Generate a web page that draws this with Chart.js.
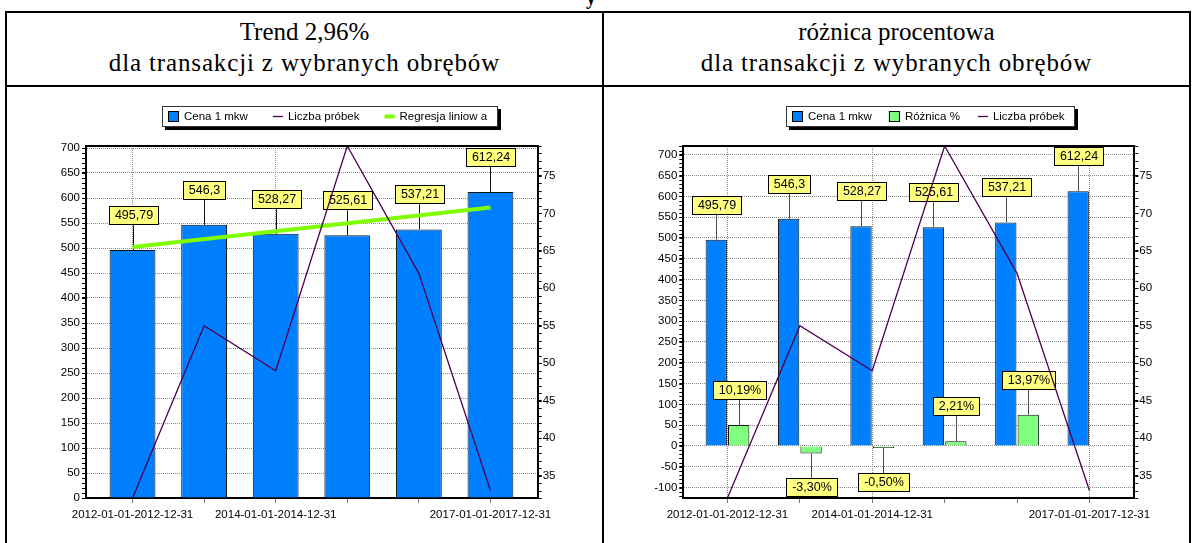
<!DOCTYPE html>
<html>
<head>
<meta charset="utf-8">
<script src="https://cdn.jsdelivr.net/npm/chart.js@4.4.1/dist/chart.umd.min.js"></script>
<style>
  body { margin: 0; background: #fff; }
  #page { position: relative; width: 1197px; height: 543px; overflow: hidden; background: #fff; }
  .rule { position: absolute; background: #000; }
  .head {
    position: absolute; top: 13px; height: 72px; text-align: center; color: #000;
    font-family: "Liberation Serif", "Times New Roman", serif; font-size: 25px; line-height: 31px;
    padding-top: 3px; box-sizing: border-box;
  }
  .head span { letter-spacing: 0.85px; }
  .cut { position: absolute; left: 586px; top: -14px; font: bold 20px "Liberation Serif", serif; }
  .cell { position: absolute; top: 87px; height: 456px; }
</style>
</head>
<body>
<div id="page">
  <div class="cut">y</div>
  <div class="rule" style="left:5px;top:11px;width:1186px;height:2px"></div>
  <div class="rule" style="left:5px;top:85px;width:1186px;height:2px"></div>
  <div class="rule" style="left:5px;top:11px;width:2px;height:532px"></div>
  <div class="rule" style="left:602px;top:11px;width:2px;height:532px"></div>
  <div class="rule" style="left:1189px;top:11px;width:2px;height:532px"></div>
  <div class="head" style="left:7px;width:595px">Trend 2,96%<br><span>dla transakcji z wybranych obrębów</span></div>
  <div class="head" style="left:604px;width:585px">różnica procentowa<br><span>dla transakcji z wybranych obrębów</span></div>
  <div class="cell" style="left:7px;width:595px"><canvas id="trendChart"></canvas></div>
  <div class="cell" style="left:604px;width:585px"><canvas id="diffChart"></canvas></div>
</div>
<script>
// data
const categories = [
  "2012-01-01-2012-12-31", "2013-01-01-2013-12-31", "2014-01-01-2014-12-31",
  "2015-01-01-2015-12-31", "2016-01-01-2016-12-31", "2017-01-01-2017-12-31",
];
const shownTicks = [0, 2, 5];
const pricePerSqm = [495.79, 546.3, 528.27, 525.61, 537.21, 612.24];
const sampleCount = [32, 55, 49, 79, 62, 33];
const regressionX = [0, 5];
const regressionY = [502, 581];
const priceDiff = [50.51, -18.03, -2.66, 11.6, 75.03, null];
const priceDiffPct = [10.19, -3.3, -0.5, 2.21, 13.97, null];

const FONT = "'Liberation Sans', Arial, sans-serif";
const BLUE = "#0080ff";
const PURPLE = "#500050";
const LIME = "#80ff00";
const MINT = "#80ff80";
const NOTE = "#ffff80";

const points = (ys, xs) => ys.map((y, i) => ({ x: xs ? xs[i] : i, y }));
const comma = (v) => String(v).replace(".", ",");
const pct = (v) => (v == null ? null : v.toFixed(2).replace(".", ",") + "%");

// BEGIN: PLUGINS
// yellow value boxes on stems, drawn after bars but under the lines
const valueNotes = {
  id: "valueNotes",
  beforeDatasetsDraw(chart) {
    chart.$notesDone = false;
  },
  beforeDatasetDraw(chart, args, opts) {
    if (chart.$notesDone || args.meta.type !== "line") return;
    chart.$notesDone = true;
    const ctx = chart.ctx;
    ctx.save();
    ctx.font = `12.5px ${FONT}`;
    ctx.textAlign = "center";
    ctx.textBaseline = "middle";
    chart.data.datasets.forEach((ds, di) => {
      if (!ds.notes) return;
      chart.getDatasetMeta(di).data.forEach((el, i) => {
        const text = ds.notes[i];
        if (text == null) return;
        const down = ds.data[i].y < 0;
        const x = Math.round(el.x) + 0.5;
        const y1 = down ? el.y + opts.stem : el.y - opts.stem;
        ctx.strokeStyle = opts.stemColor;
        ctx.lineWidth = 1;
        ctx.beginPath();
        ctx.moveTo(x, el.y);
        ctx.lineTo(x, y1);
        ctx.stroke();
        const w = Math.round(ctx.measureText(text).width + 12);
        const h = 19;
        const left = Math.round(x - w / 2);
        const top = Math.round(down ? y1 : y1 - h);
        ctx.fillStyle = NOTE;
        ctx.fillRect(left, top, w, h);
        ctx.strokeStyle = "#000";
        ctx.strokeRect(left + 0.5, top + 0.5, w - 1, h - 1);
        ctx.fillStyle = "#000";
        ctx.fillText(text, left + w / 2, top + h / 2 + 0.5);
      });
    });
    ctx.restore();
  },
};

// legend in a box with a hard shadow
const framedLegend = {
  id: "framedLegend",
  afterDraw(chart, args, opts) {
    const ctx = chart.ctx;
    ctx.save();
    ctx.font = `11.5px ${FONT}`;
    ctx.textBaseline = "middle";
    const items = chart.data.datasets.map((ds) => ({
      ds,
      w: 16 + ctx.measureText(ds.label).width,
    }));
    const width = Math.round(
      6 + items.reduce((s, it) => s + it.w, 0) + opts.gap * (items.length - 1) + 11
    );
    const x0 = opts.left;
    const y0 = opts.top;
    const h = 21;
    ctx.fillStyle = "#000";
    ctx.fillRect(x0 + 3, y0 + 3, width, h);
    ctx.fillStyle = "#fff";
    ctx.fillRect(x0, y0, width, h);
    ctx.strokeStyle = "#333";
    ctx.lineWidth = 1;
    ctx.strokeRect(x0 + 0.5, y0 + 0.5, width - 1, h - 1);
    let x = x0 + 6;
    const cy = y0 + h / 2;
    items.forEach(({ ds, w }) => {
      if (ds.type === "line") {
        ctx.strokeStyle = ds.borderColor;
        ctx.lineWidth = ds.borderWidth > 2 ? 4 : 1.3;
        ctx.beginPath();
        ctx.moveTo(x + 1, cy);
        ctx.lineTo(x + 11, cy);
        ctx.stroke();
      } else {
        ctx.fillStyle = ds.backgroundColor;
        ctx.fillRect(x, cy - 5.5, 11, 11);
        ctx.strokeStyle = "#000";
        ctx.lineWidth = 1;
        ctx.strokeRect(x + 0.5, cy - 5, 10, 10);
      }
      ctx.fillStyle = "#000";
      ctx.fillText(ds.label, x + 16, cy);
      x += w + opts.gap;
    });
    ctx.restore();
  },
};

// top frame line and small minor ticks on the value axes
const plotFrame = {
  id: "plotFrame",
  afterDraw(chart, args, opts) {
    const { ctx, chartArea } = chart;
    ctx.save();
    ctx.strokeStyle = "#000";
    ctx.lineWidth = 2;
    ctx.beginPath();
    ctx.moveTo(chartArea.left - 1, chartArea.top);
    ctx.lineTo(chartArea.right + 1, chartArea.top);
    ctx.stroke();
    ctx.lineWidth = 1;
    Object.entries(opts.minor).forEach(([id, step]) => {
      const s = chart.scales[id];
      const side = s.position === "left" ? -1 : 1;
      const x = side < 0 ? s.right - 1 : s.left + 1;
      for (let v = Math.ceil(s.min / step) * step; v <= s.max; v += step) {
        const y = Math.round(s.getPixelForValue(v)) + 0.5;
        ctx.beginPath();
        ctx.moveTo(x, y);
        ctx.lineTo(x + side * 3, y);
        ctx.stroke();
      }
    });
    ctx.restore();
  },
};
// END: PLUGINS

// BEGIN: SHARED AXES
const tickFont = { family: FONT, size: 11.5 };

function categoryAxis(min, max) {
  return {
    type: "linear",
    min,
    max,
    offset: false,
    afterBuildTicks: (s) => {
      s.ticks = categories.map((_, i) => ({ value: i }));
    },
    afterFit: (s) => {
      s.height = 30;
    },
    ticks: {
      autoSkip: false,
      maxRotation: 0,
      minRotation: 0,
      padding: 5,
      color: "#000",
      font: tickFont,
      callback: (v) => (shownTicks.includes(v) ? categories[v] : ""),
    },
    grid: {
      offset: false,
      color: (c) => (c.tick && shownTicks.includes(c.tick.value) ? "#8c8c8c" : "rgba(0,0,0,0)"),
      tickColor: "#777",
      tickLength: 5,
    },
    border: { color: "#000", width: 2, dash: [1, 1] },
  };
}

function valueAxis(min, max, width) {
  return {
    position: "left",
    min,
    max,
    beginAtZero: false,
    afterFit: (s) => {
      s.width = width;
    },
    ticks: { stepSize: 50, includeBounds: false, padding: 2, color: "#000", font: tickFont },
    grid: { color: "#8c8c8c", tickColor: "#000", tickLength: 4 },
    border: { color: "#000", width: 2, dash: [1, 1] },
  };
}

function samplesAxis(width) {
  return {
    position: "right",
    min: Math.min(...sampleCount),
    max: Math.max(...sampleCount),
    beginAtZero: false,
    afterFit: (s) => {
      s.width = width;
    },
    ticks: { stepSize: 5, includeBounds: false, padding: 1, color: "#000", font: tickFont },
    grid: { drawOnChartArea: false, tickColor: "#000", tickLength: 4 },
    border: { color: "#000", width: 2 },
  };
}

function samplesLine() {
  return {
    type: "line",
    label: "Liczba próbek",
    data: points(sampleCount),
    yAxisID: "y1",
    borderColor: PURPLE,
    backgroundColor: PURPLE,
    borderWidth: 1.3,
    pointRadius: 0,
    order: 0,
  };
}
// END: SHARED AXES

// BEGIN: TREND CHART
new Chart(document.getElementById("trendChart"), {
  type: "bar",
  data: {
    datasets: [
      {
        label: "Cena 1 mkw",
        data: points(pricePerSqm),
        notes: pricePerSqm.map(comma),
        backgroundColor: BLUE,
        borderColor: "#111",
        borderWidth: 1,
        barPercentage: 0.8,
        categoryPercentage: 0.8,
        order: 2,
      },
      samplesLine(),
      {
        type: "line",
        label: "Regresja liniow a",
        data: points(regressionY, regressionX),
        borderColor: LIME,
        backgroundColor: LIME,
        borderWidth: 4,
        pointRadius: 0,
        order: 1,
      },
    ],
  },
  options: {
    animation: false,
    responsive: true,
    maintainAspectRatio: false,
    layout: { padding: { top: 59, left: 0, right: 0, bottom: 15 } },
    plugins: {
      legend: { display: false },
      tooltip: { enabled: false },
      framedLegend: { left: 155, top: 19, gap: 24 },
      valueNotes: { stem: 25, stemColor: "#111" },
      plotFrame: { minor: { y: 10, y1: 1 } },
    },
    scales: {
      x: categoryAxis(-0.65, 5.66),
      y: valueAxis(0, 704, 79),
      y1: samplesAxis(64.3),
    },
  },
  plugins: [valueNotes, framedLegend, plotFrame],
});
// END: TREND CHART

// BEGIN: DIFFERENCE CHART
new Chart(document.getElementById("diffChart"), {
  type: "bar",
  data: {
    datasets: [
      {
        label: "Cena 1 mkw",
        data: points(pricePerSqm),
        notes: pricePerSqm.map(comma),
        backgroundColor: BLUE,
        borderColor: "#111",
        borderWidth: 1,
        barPercentage: 0.95,
        categoryPercentage: 0.62,
        order: 1,
      },
      {
        label: "Różnica %",
        data: points(priceDiff),
        notes: priceDiffPct.map(pct),
        backgroundColor: MINT,
        borderColor: "#111",
        borderWidth: 1,
        minBarLength: 2,
        barPercentage: 0.95,
        categoryPercentage: 0.62,
        order: 2,
      },
      samplesLine(),
    ],
  },
  options: {
    animation: false,
    responsive: true,
    maintainAspectRatio: false,
    layout: { padding: { top: 59, left: 0, right: 0, bottom: 15 } },
    plugins: {
      legend: { display: false },
      tooltip: { enabled: false },
      framedLegend: { left: 182, top: 19, gap: 17 },
      valueNotes: { stem: 25, stemColor: "#4d4d4d" },
      plotFrame: { minor: { y: 10, y1: 1 } },
    },
    scales: {
      x: categoryAxis(-0.61, 5.62),
      y: valueAxis(-125, 721, 79.3),
      y1: samplesAxis(54.7),
    },
  },
  plugins: [valueNotes, framedLegend, plotFrame],
});
// END: DIFFERENCE CHART
</script>
</body>
</html>
